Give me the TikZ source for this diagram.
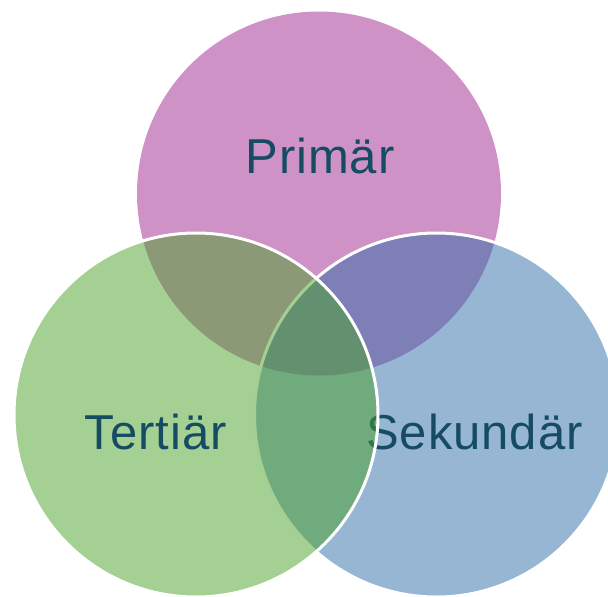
\documentclass[tikz,border=0pt]{standalone}
\usepackage{fontspec}
\setmainfont{Liberation Sans}[LetterSpace=2]
\definecolor{pinkc}{RGB}{206,146,198}
\definecolor{bluec}{RGB}{45,109,167}
\definecolor{greenc}{RGB}{75,161,41}
\definecolor{textc}{RGB}{22,75,100}
\tikzset{
  venn/.style={circle, inner sep=0pt, minimum size=364pt},
  lbl/.style={anchor=base, text=textc, inner sep=0pt, font=\fontsize{49}{58}\selectfont}
}
\begin{document}
\begin{tikzpicture}[x=1pt,y=-1pt]
\useasboundingbox (0,0) rectangle (608,597);
\node[venn, fill=pinkc] (prim) at (319,193.5) {};
\node[venn, fill=bluec, fill opacity=0.5, draw=white, line width=3pt] (sek) at (436.5,415) {};
\node[lbl] (tsek) at (474.5,449) {Sekundär};
\node[lbl] (tprim) at (320,173) {Primär};
\node[venn, fill=greenc, fill opacity=0.5, draw=white, line width=3pt] (ter) at (196,415) {};
\node[lbl] (tter) at (156,449) {Tertiär};
\end{tikzpicture}
\end{document}
